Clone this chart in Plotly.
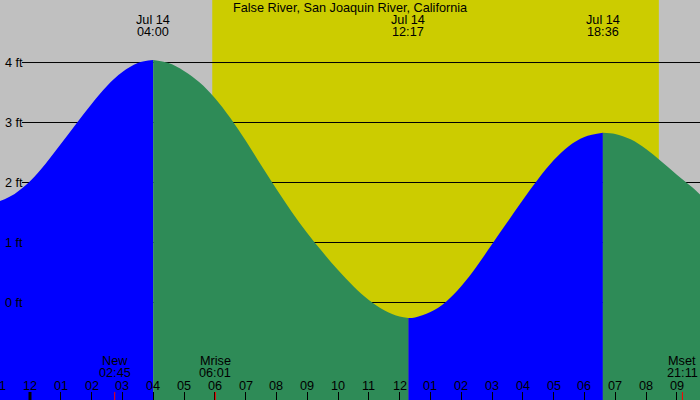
import plotly.graph_objects as go

# ---------------- data ----------------
title = "False River, San Joaquin River, California"

# tide curve samples: hours after midnight Jul 14, height in ft
curve_time = [-0.974, -0.5, 0, 0.5, 1, 1.5, 2, 2.5, 3, 3.5, 4,
              4.5, 5, 5.5, 6, 6.5, 7, 7.5, 8, 8.5, 9, 9.5, 10, 10.5, 11, 11.5, 12, 12.283,
              12.5, 13, 13.5, 14, 14.5, 15, 15.5, 16, 16.5, 17, 17.5, 18, 18.6,
              19, 19.5, 20, 20.5, 21, 21.5, 21.753]
curve_ft = [1.69, 1.81, 2.02, 2.31, 2.64, 2.98, 3.31, 3.61, 3.84, 3.99, 4.04,
            3.99, 3.86, 3.67, 3.41, 3.08, 2.70, 2.29, 1.89, 1.51, 1.16, 0.84, 0.54, 0.27, 0.04, -0.13, -0.235, -0.26,
            -0.25, -0.16, 0.01, 0.27, 0.60, 0.97, 1.34, 1.71, 2.06, 2.37, 2.61, 2.76, 2.83,
            2.81, 2.72, 2.56, 2.35, 2.13, 1.92, 1.80]

# tide extremes (labelled on top)
extreme_time = [4.0, 12.283, 18.6]
extreme_label = ["04:00", "12:17", "18:36"]
extreme_date = ["Jul 14", "Jul 14", "Jul 14"]

# daylight
sunrise = 5.917   # 05:55
sunset = 20.417   # 20:25

# moon events
moon_time = [2.75, 6.017, 21.183]
moon_name = ["New", "Mrise", "Mset"]
moon_label = ["02:45", "06:01", "21:11"]

# hour ticks
hour_vals = list(range(-1, 22))
hour_text = ["11", "12"] + ["%02d" % h for h in range(1, 12)] + ["12"] + ["%02d" % h for h in range(1, 10)]

# height gridlines
ft_vals = [0, 1, 2, 3, 4]
ft_text = ["0 ft", "1 ft", "2 ft", "3 ft", "4 ft"]

# ---------------- styles ----------------
X_RANGE = [-0.974, 21.753]
Y_RANGE = [-1.625, 5.042]
BASE = -2.0
FONT = "Liberation Sans, Arial, sans-serif"
FS = 12.7
BLUE = "#0000ff"
GREEN = "#2e8b57"
GRAY = "#c0c0c0"
YELLOW = "#cccc00"

fig = go.Figure()

# split curve into segments between extremes
bounds = [curve_time[0]] + extreme_time + [curve_time[-1]]
for a, b in zip(bounds[:-1], bounds[1:]):
    xs = [t for t in curve_time if a - 1e-9 <= t <= b + 1e-9]
    ys = [curve_ft[curve_time.index(t)] for t in xs]
    color = BLUE if ys[-1] > ys[0] else GREEN
    fig.add_trace(go.Scatter(x=xs, y=[BASE] * len(xs), mode="lines",
                             line=dict(width=0), hoverinfo="skip", showlegend=False))
    fig.add_trace(go.Scatter(x=xs, y=ys, mode="lines", fill="tonexty",
                             fillcolor=color,
                             line=dict(width=0, shape="spline", smoothing=1.0, color=color),
                             hoverinfo="skip", showlegend=False))

shapes = []
shapes.append(dict(type="rect", xref="x", yref="paper", x0=sunrise, x1=sunset, y0=0, y1=1,
                   fillcolor=YELLOW, line=dict(width=0), layer="below"))
for v in ft_vals:
    shapes.append(dict(type="line", xref="paper", yref="y", x0=22 / 700, x1=1, y0=v, y1=v,
                       line=dict(color="black", width=1), layer="below"))
# midnight day boundary tick
shapes.append(dict(type="line", xref="x", yref="paper", x0=0, x1=0, y0=0, y1=8 / 400,
                   line=dict(color="black", width=3)))
for t in moon_time:
    shapes.append(dict(type="line", xref="x", yref="paper", x0=t, x1=t, y0=0, y1=8 / 400,
                       line=dict(color="red", width=1)))

ann = []
f = dict(family=FONT, size=FS, color="black")
ann.append(dict(text=title, xref="paper", yref="paper", x=0.5, y=1 - 8 / 400,
                showarrow=False, font=f, xanchor="center", yanchor="middle"))
for t, d, l in zip(extreme_time, extreme_date, extreme_label):
    ann.append(dict(text=d, xref="x", yref="paper", x=t, y=1 - 20 / 400, showarrow=False,
                    font=f, xanchor="center", yanchor="middle"))
    ann.append(dict(text=l, xref="x", yref="paper", x=t, y=1 - 32 / 400, showarrow=False,
                    font=f, xanchor="center", yanchor="middle"))
for v, s in zip(ft_vals, ft_text):
    ann.append(dict(text=s, xref="paper", yref="y", x=3 / 700, y=v, showarrow=False,
                    font=f, xanchor="left", yanchor="middle"))
span = X_RANGE[1] - X_RANGE[0]
for t, s in zip(hour_vals, hour_text):
    if X_RANGE[0] <= t <= X_RANGE[1]:
        ann.append(dict(text=s, xref="x", yref="paper", x=t, y=(400 - 386) / 400,
                        showarrow=False, font=f, xanchor="center", yanchor="middle"))
    else:  # label partly cut at the chart edge
        ann.append(dict(text=s, xref="paper", yref="paper", x=(t - X_RANGE[0]) / span,
                        y=(400 - 386) / 400, showarrow=False, font=f,
                        xanchor="center", yanchor="middle"))
for t, n, l in zip(moon_time, moon_name, moon_label):
    ann.append(dict(text=n, xref="x", yref="paper", x=t, y=(400 - 361) / 400, showarrow=False,
                    font=f, xanchor="center", yanchor="middle"))
    ann.append(dict(text=l, xref="x", yref="paper", x=t, y=(400 - 373) / 400, showarrow=False,
                    font=f, xanchor="center", yanchor="middle"))

fig.update_layout(
    width=700, height=400, margin=dict(l=0, r=0, t=0, b=0),
    paper_bgcolor=GRAY, plot_bgcolor=GRAY,
    shapes=shapes, annotations=ann,
    xaxis=dict(range=X_RANGE, showgrid=False, zeroline=False, showline=False,
               tickmode="array", tickvals=hour_vals, ticks="inside", ticklen=8,
               tickwidth=1, tickcolor="black", showticklabels=False, fixedrange=True),
    yaxis=dict(range=Y_RANGE, visible=False, fixedrange=True),
    showlegend=False,
)

fig.write_html("out.html", config={"displayModeBar": False})
